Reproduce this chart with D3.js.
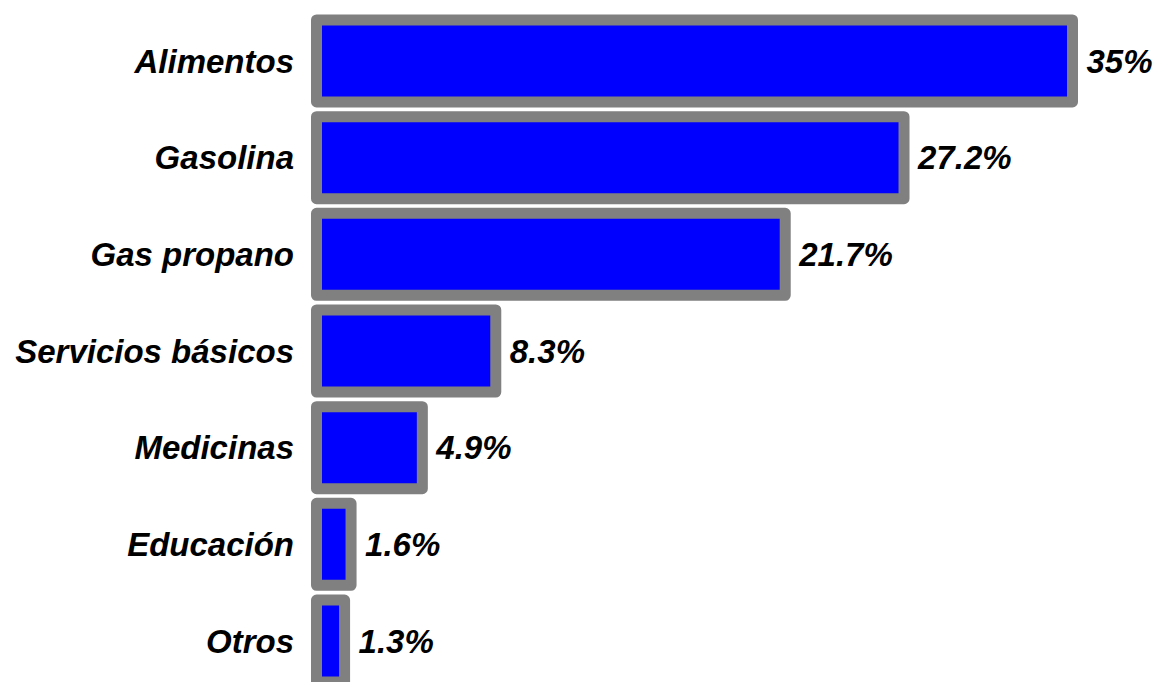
<!DOCTYPE html>
<html>
<head>
<meta charset="utf-8">
<script src="https://cdn.jsdelivr.net/npm/d3@7"></script>
<style>
  html, body { margin: 0; padding: 0; background: #ffffff; }
  svg { display: block; }
</style>
</head>
<body>
<svg id="chart" width="1154" height="682"></svg>
<script>
const categories = ["Alimentos", "Gasolina", "Gas propano", "Servicios básicos", "Medicinas", "Educación", "Otros"];
const values = [35, 27.2, 21.7, 8.3, 4.9, 1.6, 1.3];
const valueLabels = ["35%", "27.2%", "21.7%", "8.3%", "4.9%", "1.6%", "1.3%"];

const data = categories.map((c, i) => ({ cat: c, value: values[i], label: valueLabels[i] }));

const svg = d3.select("#chart");

const x = d3.scaleLinear().domain([0, 35]).range([316.5, 1072.5]);
const y = d3.scaleBand().domain(categories).range([20, 682]).paddingInner(0.152).paddingOuter(0);

const font = "'Liberation Sans', Arial, sans-serif";

svg.append("g").selectAll("rect")
  .data(data)
  .join("rect")
  .attr("x", x(0))
  .attr("y", d => y(d.cat))
  .attr("width", d => x(d.value) - x(0))
  .attr("height", y.bandwidth())
  .attr("fill", "#0000ff")
  .attr("stroke", "#808080")
  .attr("stroke-width", 11)
  .attr("stroke-linejoin", "round");

svg.append("g").selectAll("text")
  .data(data)
  .join("text")
  .attr("x", 294)
  .attr("y", d => y(d.cat) + y.bandwidth() / 2)
  .attr("dy", "0.35em")
  .attr("text-anchor", "end")
  .style("font-family", font)
  .style("font-size", "33px")
  .style("font-weight", "bold")
  .style("font-style", "italic")
  .attr("fill", "#000")
  .text(d => d.cat);

svg.append("g").selectAll("text")
  .data(data)
  .join("text")
  .attr("x", d => x(d.value) + 14)
  .attr("y", d => y(d.cat) + y.bandwidth() / 2)
  .attr("dy", "0.35em")
  .attr("text-anchor", "start")
  .style("font-family", font)
  .style("font-size", "33px")
  .style("font-weight", "bold")
  .style("font-style", "italic")
  .attr("fill", "#000")
  .text(d => d.label);
</script>
</body>
</html>
